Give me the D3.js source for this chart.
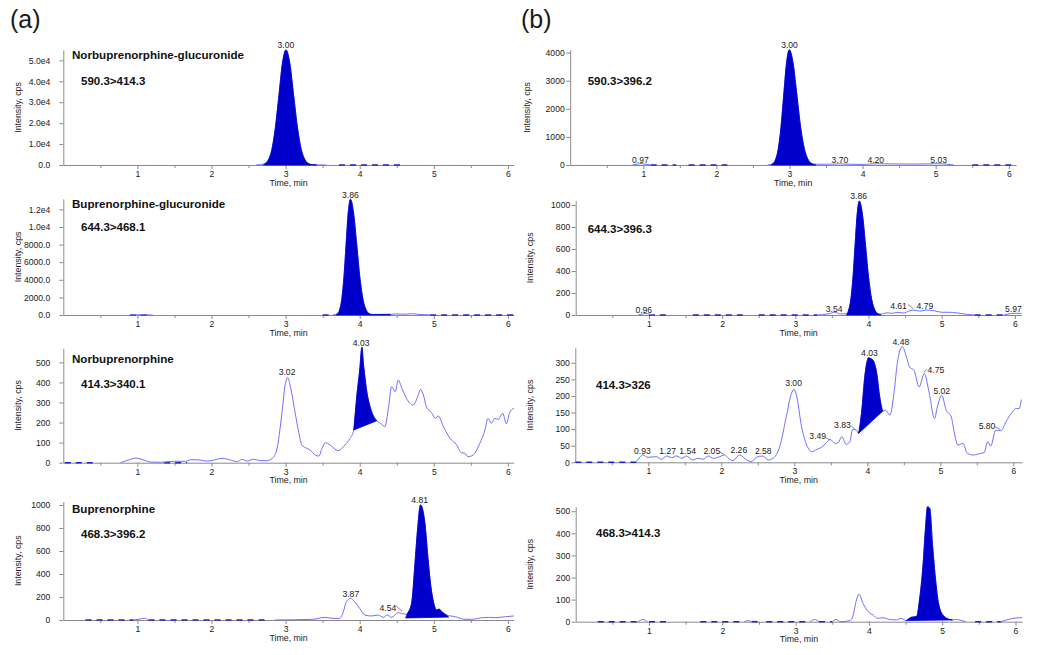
<!DOCTYPE html>
<html><head><meta charset="utf-8">
<script src="https://cdn.jsdelivr.net/npm/d3@7"></script>
<style>
body{margin:0;background:#fff}
svg{display:block}
text{font-family:"Liberation Sans",Arial,sans-serif}
</style>
</head><body>
<svg id="c" width="1050" height="655"></svg>
<script>
// ---------- DATA ----------
const xTickVals = [1, 2, 3, 4, 5, 6];
const xMinorVals = [0.5, 1.5, 2.5, 3.5, 4.5, 5.5];

const a1YTicks = [0, 10000, 20000, 30000, 40000, 50000];
const a1YLabels = ["0.0", "1.0e4", "2.0e4", "3.0e4", "4.0e4", "5.0e4"];
const a2YTicks = [0, 2000, 4000, 6000, 8000, 10000, 12000];
const a2YLabels = ["0.0", "2000.0", "4000.0", "6000.0", "8000.0", "1.0e4", "1.2e4"];
const a3YTicks = [0, 100, 200, 300, 400, 500];
const a4YTicks = [0, 200, 400, 600, 800, 1000];
const b1YTicks = [0, 1000, 2000, 3000, 4000];
const b2YTicks = [0, 200, 400, 600, 800, 1000];
const b3YTicks = [0, 50, 100, 150, 200, 250, 300];
const b4YTicks = [0, 100, 200, 300, 400, 500];

const compounds = ["Norbuprenorphine-glucuronide", "Buprenorphine-glucuronide", "Norbuprenorphine", "Buprenorphine"];
const transitionsA = ["590.3>414.3", "644.3>468.1", "414.3>340.1", "468.3>396.2"];
const transitionsB = ["590.3>396.2", "644.3>396.3", "414.3>326", "468.3>414.3"];

// traces: [time (min), intensity (cps)], null breaks the line
const a1Trace = [[2.60,0],[2.72,610],[2.767,2400],[2.815,7440],[2.862,17860],[2.91,33360],[2.957,48540],[3.005,55000],[3.057,48540],[3.108,33360],[3.16,17860],[3.211,7440],[3.263,2400],[3.314,610],[3.36,150],[3.42,50],[3.55,0]];
const b1Trace = [[0.85,0],[0.92,30],[0.97,50],[1.02,30],[1.1,0],null,[2.70,0],[2.77,45],[2.807,180],[2.845,555],[2.883,1330],[2.921,2490],[2.959,3620],[2.997,4100],[3.049,3620],[3.101,2490],[3.153,1330],[3.205,555],[3.257,180],[3.309,45],[3.36,30],[3.45,25],[3.55,30],[3.70,38],[3.85,25],[4.0,20],[4.1,35],[4.20,45],[4.35,40],[4.6,35],[4.8,35],[5.03,45],[5.15,30],[5.25,0]];
const a2Trace = [[0.9,0],[1.0,30],[1.1,20],[1.2,0],null,[3.64,0],[3.70,145],[3.729,577],[3.758,1780],[3.787,4270],[3.816,7975],[3.845,11600],[3.875,13150],[3.917,11600],[3.96,7975],[4.002,4270],[4.044,1780],[4.087,577],[4.13,145],[4.17,60],[4.25,60],[4.40,70],[4.5,120],[4.6,90],[4.7,150],[4.8,60],[4.9,30],[4.95,0]];
const b2Trace = [[0.85,0],[0.93,12],[0.96,15],[1.0,10],[1.05,0],null,[3.3,0],[3.45,10],[3.54,25],[3.62,10],[3.70,11],[3.729,45],[3.758,140],[3.787,336],[3.816,628],[3.845,915],[3.874,1036],[3.917,915],[3.96,628],[4.002,336],[4.044,140],[4.087,45],[4.13,11],[4.17,8],[4.2,12],[4.25,20],[4.32,15],[4.4,25],[4.48,18],[4.55,35],[4.61,45],[4.7,35],[4.79,45],[4.9,38],[5.0,25],[5.1,25],[5.2,20],[5.35,5],[5.45,0],null,[5.85,0],[5.92,10],[5.97,15],[6.09,15]];
const a3Trace = [[0.776,0],[0.91,17],[0.977,23],[1.09,13],[1.18,3],[1.31,2],[1.49,7],[1.65,7],[1.72,15],[1.85,13],[1.94,8],[2.03,13],[2.14,22],[2.26,13],[2.35,5],[2.41,17],[2.48,8],[2.57,17],[2.66,10],[2.75,10],[2.82,22],[2.88,63],[2.95,246],[2.997,395],[3.03,424],[3.06,387],[3.13,246],[3.18,146],[3.22,88],[3.29,71],[3.33,63],[3.40,38],[3.45,33],[3.49,71],[3.54,100],[3.60,88],[3.71,60],[3.80,88],[3.87,121],[3.92,163],[3.96,329],[4.00,462],[4.03,575],[4.05,495],[4.075,412],[4.10,345],[4.14,279],[4.18,237],[4.23,209],[4.30,191],[4.34,179],[4.39,279],[4.43,379],[4.48,354],[4.52,412],[4.57,370],[4.63,321],[4.72,287],[4.79,337],[4.82,365],[4.86,337],[4.90,279],[4.97,249],[5.02,221],[5.06,233],[5.13,179],[5.22,121],[5.31,88],[5.37,50],[5.42,47],[5.46,30],[5.53,38],[5.62,96],[5.69,163],[5.73,221],[5.78,196],[5.82,221],[5.87,216],[5.93,246],[5.98,193],[6.02,246],[6.08,271]];
const b3Trace = [[0.84,2],[0.93,22],[0.995,15],[1.11,17],[1.18,9],[1.25,19],[1.32,14],[1.39,19],[1.46,12],[1.52,19],[1.61,7],[1.68,12],[1.75,9],[1.82,19],[1.89,12],[1.98,17],[2.04,22],[2.10,12],[2.16,5],[2.25,22],[2.35,7],[2.41,2],[2.48,15],[2.57,19],[2.64,7],[2.71,12],[2.80,47],[2.89,137],[2.96,207],[2.996,220],[3.03,202],[3.10,107],[3.17,52],[3.24,32],[3.31,39],[3.37,45],[3.44,59],[3.49,69],[3.56,57],[3.60,59],[3.65,77],[3.71,54],[3.76,62],[3.80,99],[3.85,97],[3.88,87],[3.92,147],[3.97,267],[4.00,307],[4.014,315],[4.05,312],[4.08,307],[4.13,267],[4.17,197],[4.21,154],[4.25,157],[4.31,142],[4.37,217],[4.41,297],[4.48,349],[4.53,322],[4.58,287],[4.64,277],[4.71,227],[4.78,267],[4.85,207],[4.92,132],[4.96,167],[5.02,202],[5.08,157],[5.15,137],[5.19,92],[5.24,52],[5.31,57],[5.37,27],[5.46,22],[5.55,27],[5.60,29],[5.65,62],[5.69,49],[5.76,97],[5.83,95],[5.90,122],[5.97,147],[6.04,162],[6.08,162],[6.11,189]];
const a4Trace = [[0.95,0],[1.05,10],[1.1,15],[1.15,0],null,[2.85,0],[3.37,6],[3.53,23],[3.64,14],[3.73,14],[3.78,72],[3.82,160],[3.88,188],[3.93,160],[4.00,101],[4.07,43],[4.16,35],[4.25,43],[4.32,23],[4.37,43],[4.43,23],[4.52,64],[4.58,55],[4.64,50],[4.70,145],[4.746,493],[4.78,783],[4.82,1000],[4.88,841],[4.92,551],[4.95,348],[4.99,174],[5.04,87],[5.07,95],[5.11,70],[5.17,43],[5.29,29],[5.42,6],[5.51,6],[5.65,20],[5.74,23],[5.83,20],[5.97,29],[6.08,35]];
const b4Trace = [[0.85,0],[0.92,10],[0.98,0],null,[2.3,0],[2.35,5],[2.4,0],null,[3.2,0],[3.26,10],[3.32,0],null,[3.5,0],[3.55,10],[3.62,0],[3.74,5],[3.78,23],[3.83,98],[3.865,125],[3.92,83],[3.99,45],[4.06,30],[4.12,15],[4.19,18],[4.28,10],[4.375,8],[4.44,15],[4.51,5],[4.58,20],[4.65,23],[4.69,98],[4.74,264],[4.77,415],[4.80,520],[4.83,513],[4.87,339],[4.91,188],[4.95,83],[5.01,30],[5.10,10],[5.14,8],[5.20,10],[5.27,5],[5.32,0],null,[5.8,0],[5.88,8],[5.95,14],[6.06,18],[6.09,18]];

// integrated peak: [start min, end min, start base cps, end base cps]
const a1Fill = [2.70, 3.42, 0, 0];
const b1Fill = [2.75, 3.36, 0, 0];
const a2Fill = [3.68, 4.42, 0, 0];
const b2Fill = [3.70, 4.17, 0, 0];
const a3Fill = [3.92, 4.23, 163, 209];
const b3Fill = [3.88, 4.21, 87, 154];
const a4Fill = [4.62, 5.20, 18, 25];
const b4Fill = [4.51, 5.14, 5, 8];

// zero-intensity stretches (min)
const a1Dash = [[3.72, 4.6]];
const b1Dash = [[1.1, 1.45], [1.62, 2.15], [5.5, 6.05]];
const a2Dash = [[0.9, 1.2], [3.5, 3.66], [4.95, 6.07]];
const b2Dash = [[1.0, 1.3], [1.6, 2.3], [2.5, 3.3], [5.45, 5.9]];
const a3Dash = [[0.02, 0.42], [1.36, 1.67]];
const b3Dash = [[0.0, 0.84]];
const a4Dash = [[0.3, 0.95], [1.15, 2.75]];
const b4Dash = [[0.3, 0.85], [1.0, 1.3], [1.7, 2.3], [2.4, 2.5], [2.6, 3.2], [3.32, 3.5], [5.45, 5.8]];

// peak labels: [text, min, cps]
const a1Labels = [["3.00", 3.005, 56000]];
const b1Labels = [["0.97", 0.96, 80], ["3.00", 3.0, 4171], ["3.70", 3.69, 80], ["4.20", 4.18, 80], ["5.03", 5.04, 80]];
const a2Labels = [["3.86", 3.875, 13240]];
const b2Labels = [["0.96", 0.93, 20], ["3.54", 3.53, 29], ["3.86", 3.866, 1059], ["4.61", 4.41, 59], ["4.79", 4.77, 59], ["5.97", 5.98, 29]];
const a3Labels = [["3.02", 3.02, 436], ["4.03", 4.02, 580]];
const b3Labels = [["0.93", 0.92, 26], ["1.27", 1.266, 24], ["1.54", 1.54, 24], ["2.05", 1.87, 24], ["2.26", 2.24, 27], ["2.58", 2.575, 24], ["3.00", 2.99, 229], ["3.49", 3.32, 69], ["3.83", 3.66, 104], ["4.03", 4.03, 319], ["4.48", 4.46, 353], ["4.75", 4.94, 270], ["5.02", 5.02, 205], ["5.80", 5.64, 100]];
const a4Labels = [["3.87", 3.88, 202], ["4.54", 4.38, 77], ["4.81", 4.81, 1019]];
const b4Labels = [];

// leader lines: [min1, cps1, min2, cps2]
const b2Leaders = [[4.54, 95, 4.61, 60]];
const b3Leaders = [[1.97, 32, 2.04, 24], [3.43, 75, 3.49, 67], [3.78, 110, 3.83, 100], [4.82, 280, 4.77, 270], [5.75, 107, 5.82, 99]];
const a4Leaders = [[4.49, 122, 4.57, 78]];

// ---------- LAYOUT ----------
const panels = [
  {col:"a", x0:63.3, ppm:74.1, tMax:6.08, base:165, yMax:55000, yTop:49.9, ticks:a1YTicks, tickLabels:a1YLabels, trace:a1Trace, fill:a1Fill, dash:a1Dash, labels:a1Labels, leaders:[], name:compounds[0], mrm:transitionsA[0], nameY:58.5, mrmY:85, mrmX:81, ylabX:18.3},
  {col:"a", x0:63.3, ppm:74.1, tMax:6.08, base:315, yMax:13200, yTop:198.8, ticks:a2YTicks, tickLabels:a2YLabels, trace:a2Trace, fill:a2Fill, dash:a2Dash, labels:a2Labels, leaders:[], name:compounds[1], mrm:transitionsA[1], nameY:208.3, mrmY:230.7, mrmX:81, ylabX:18.3},
  {col:"a", x0:63.3, ppm:74.1, tMax:6.08, base:462.7, yMax:570, yTop:348.3, ticks:a3YTicks, tickLabels:null, trace:a3Trace, fill:a3Fill, dash:a3Dash, labels:a3Labels, leaders:[], name:compounds[2], mrm:transitionsA[2], nameY:362.7, mrmY:388.3, mrmX:81, ylabX:18.3},
  {col:"a", x0:63.3, ppm:74.1, tMax:6.08, base:620, yMax:1030, yTop:501.5, ticks:a4YTicks, tickLabels:null, trace:a4Trace, fill:a4Fill, dash:a4Dash, labels:a4Labels, leaders:a4Leaders, name:compounds[3], mrm:transitionsA[3], nameY:513.3, mrmY:537.7, mrmX:81, ylabX:18.3},
  {col:"b", x0:570.2, ppm:73.1, tMax:6.1, base:165, yMax:4100, yTop:49.8, ticks:b1YTicks, tickLabels:null, trace:b1Trace, fill:b1Fill, dash:b1Dash, labels:b1Labels, leaders:[], name:null, mrm:transitionsB[0], mrmY:85, mrmX:587.7, ylabX:526.7},
  {col:"b", x0:575.7, ppm:73.2, tMax:6.09, base:315, yMax:1040, yTop:200.6, ticks:b2YTicks, tickLabels:null, trace:b2Trace, fill:b2Fill, dash:b2Dash, labels:b2Labels, leaders:b2Leaders, name:null, mrm:transitionsB[1], mrmY:233.3, mrmX:587.7, ylabX:530},
  {col:"b", x0:575.3, ppm:73.0, tMax:6.12, base:462.3, yMax:345, yTop:347.8, ticks:b3YTicks, tickLabels:null, trace:b3Trace, fill:b3Fill, dash:b3Dash, labels:b3Labels, leaders:b3Leaders, name:null, mrm:transitionsB[2], mrmY:389, mrmX:596, ylabX:530},
  {col:"b", x0:575.7, ppm:73.3, tMax:6.09, base:621.7, yMax:520, yTop:506.8, ticks:b4YTicks, tickLabels:null, trace:b4Trace, fill:b4Fill, dash:b4Dash, labels:b4Labels, leaders:[], name:null, mrm:transitionsB[3], mrmY:537.3, mrmX:596, ylabX:530}
];

const AXIS = "#8a8a8a", TXT = "#1a1a1a", LINE = "#6f6fff", FILL = "#0000cc";
const svg = d3.select("#c");

svg.append("text").attr("x", 10).attr("y", 28).attr("font-size", 25).attr("fill", TXT).text("(a)");
svg.append("text").attr("x", 521).attr("y", 28).attr("font-size", 25).attr("fill", TXT).text("(b)");

panels.forEach(p => {
  const x = d3.scaleLinear().domain([0, p.tMax]).range([p.x0, p.x0 + p.ppm * p.tMax]);
  const y = d3.scaleLinear().domain([0, p.yMax]).range([p.base, p.yTop]);
  const g = svg.append("g");

  // x axis (major + minor ticks)
  g.append("g").attr("transform", `translate(0,${p.base})`)
    .call(d3.axisBottom(x).tickValues(xTickVals).tickFormat(d3.format("d")).tickSize(4).tickSizeOuter(0).tickPadding(2));
  g.append("g").attr("transform", `translate(0,${p.base})`)
    .call(d3.axisBottom(x).tickValues(xMinorVals).tickFormat("").tickSize(3).tickSizeOuter(0))
    .select(".domain").remove();
  // y axis
  const yAx = d3.axisLeft(y).tickValues(p.ticks).tickSize(4).tickSizeOuter(0)
    .tickPadding(p.col === "a" ? 9 : 1.5)
    .tickFormat((d, i) => p.tickLabels ? p.tickLabels[i] : d3.format("d")(d));
  g.append("g").attr("transform", `translate(${p.x0},0)`).call(yAx);

  g.selectAll(".domain").attr("stroke", AXIS);
  g.selectAll(".tick line").attr("stroke", AXIS);
  g.selectAll(".tick text").attr("fill", TXT).attr("font-size", 8.6).attr("font-family", "Liberation Sans, Arial, sans-serif");

  // axis titles
  g.append("text").attr("x", (x.range()[0] + x.range()[1]) / 2).attr("y", p.base + 20.5)
    .attr("text-anchor", "middle").attr("font-size", 8.8).attr("fill", TXT).text("Time, min");
  g.append("text").attr("transform", `translate(${p.ylabX},${(p.base + p.yTop) / 2}) rotate(-90)`)
    .attr("text-anchor", "middle").attr("dominant-baseline", "central")
    .attr("font-size", 8.8).attr("fill", TXT).text("Intensity, cps");

  // zero stretches
  p.dash.forEach(r => {
    g.append("line").attr("x1", x(r[0])).attr("x2", x(r[1])).attr("y1", y(0)).attr("y2", y(0))
      .attr("stroke", "#2222c8").attr("stroke-width", 1.6).attr("stroke-dasharray", "6,5");
  });

  // trace
  const line = d3.line().defined(d => d !== null).x(d => x(d[0])).y(d => y(d[1])).curve(d3.curveMonotoneX);
  g.append("path").attr("d", line(p.trace)).attr("fill", "none").attr("stroke", LINE).attr("stroke-width", 1);

  // integrated peak
  const f = p.fill;
  const inner = p.trace.filter(d => d && d[0] > f[0] && d[0] < f[1]);
  const pts = [[f[0], f[2]]].concat(inner, [[f[1], f[3]]]);
  const area = d3.line().x(d => x(d[0])).y(d => y(d[1])).curve(d3.curveMonotoneX);
  g.append("path").attr("d", area(pts) + "Z").attr("fill", FILL).attr("stroke", FILL).attr("stroke-width", 0.8);

  // peak labels
  p.labels.forEach(l => {
    g.append("text").attr("x", x(l[1])).attr("y", y(l[2])).attr("text-anchor", "middle")
      .attr("font-size", 8.6).attr("fill", TXT).text(l[0]);
  });
  p.leaders.forEach(l => {
    g.append("line").attr("x1", x(l[0])).attr("y1", y(l[1])).attr("x2", x(l[2])).attr("y2", y(l[3]))
      .attr("stroke", "#555").attr("stroke-width", 0.7);
  });

  // compound / transition text
  if (p.name) g.append("text").attr("x", 72).attr("y", p.nameY).attr("font-size", 11.6)
    .attr("font-weight", "bold").attr("fill", "#111").text(p.name);
  g.append("text").attr("x", p.mrmX).attr("y", p.mrmY).attr("font-size", 11.5)
    .attr("font-weight", "bold").attr("fill", "#111").text(p.mrm);
});
</script>
</body></html>
